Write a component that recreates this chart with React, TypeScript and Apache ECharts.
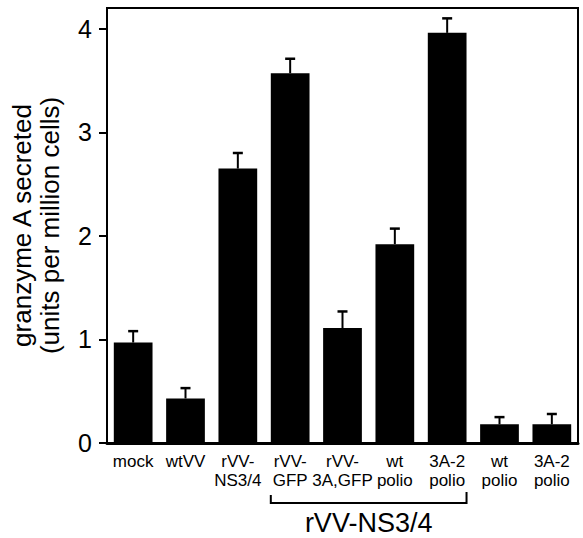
import React, { useEffect, useRef } from "react";
import * as echarts from "echarts";

const categories = [
  "mock",
  "wtVV",
  "rVV-\nNS3/4",
  "rVV-\nGFP",
  "rVV-\n3A,GFP",
  "wt\npolio",
  "3A-2\npolio",
  "wt\npolio",
  "3A-2\npolio",
];
const values = [0.97, 0.43, 2.65, 3.57, 1.11, 1.92, 3.96, 0.18, 0.18];
const errorTops = [1.08, 0.53, 2.8, 3.71, 1.27, 2.07, 4.1, 0.25, 0.28];
const yTicks = [0, 1, 2, 3, 4];
const bracketRange = [3, 6];
const bracketLabel = "rVV-NS3/4";
const yTitle = "granzyme A secreted\n(units per million cells)";

const FONT = "'Liberation Sans', Arial, Helvetica, sans-serif";

export default function App() {
  const ref = useRef<HTMLDivElement>(null);
  useEffect(() => {
    document.body.style.margin = "0";
    const chart = echarts.init(ref.current!, null, { renderer: "svg" });
    const barFrac = 0.37;
    chart.setOption({
      animation: false,
      backgroundColor: "#fff",
      grid: {
        left: 107,
        right: 5,
        top: 8,
        bottom: 95,
        show: true,
        borderColor: "#000",
        borderWidth: 2,
        outerBoundsMode: "none",
      },
      xAxis: {
        type: "category",
        data: categories,
        axisLine: { lineStyle: { color: "#000", width: 3 } },
        axisTick: { alignWithLabel: true, length: 6, lineStyle: { color: "#000", width: 1.5 } },
        axisLabel: {
          interval: 0,
          color: "#000",
          fontSize: 17,
          lineHeight: 19,
          fontFamily: FONT,
          margin: 9,
        },
      },
      yAxis: {
        type: "value",
        min: 0,
        max: 4.2,
        interval: 1,
        splitLine: { show: false },
        axisLine: { show: true, lineStyle: { color: "#000", width: 2 } },
        axisTick: {
          show: true,
          length: 8,
          lineStyle: { color: "#000", width: 2 },
          customValues: yTicks,
        },
        axisLabel: {
          color: "#000",
          fontSize: 25,
          fontFamily: FONT,
          margin: 15,
          customValues: yTicks,
        },
        name: yTitle,
        nameLocation: "middle",
        nameGap: 43,
        nameRotate: 90,
        nameTextStyle: { color: "#000", fontSize: 26, lineHeight: 28, fontFamily: FONT },
      },
      series: [
        {
          type: "bar",
          data: values,
          barWidth: "74%",
          itemStyle: { color: "#000" },
        },
        {
          type: "custom",
          data: values.map((v, i) => [i, v, errorTops[i]]),
          renderItem: (params: any, api: any) => {
            const i = api.value(0);
            const top = api.coord([i, api.value(1)]);
            const cap = api.coord([i, api.value(2)]);
            const st = { stroke: "#000", lineWidth: 2 };
            return {
              type: "group",
              children: [
                { type: "line", shape: { x1: top[0], y1: top[1], x2: cap[0], y2: cap[1] }, style: st },
                { type: "line", shape: { x1: cap[0] - 5, y1: cap[1], x2: cap[0] + 5, y2: cap[1] }, style: { stroke: "#000", lineWidth: 2.5 } },
              ],
            };
          },
          z: 3,
        },
        {
          type: "custom",
          data: [bracketRange],
          renderItem: (params: any, api: any) => {
            const a = api.coord([api.value(0), 0]);
            const b = api.coord([api.value(1), 0]);
            const band = api.size([1, 0])[0];
            const half = band * barFrac;
            const x1 = a[0] - half;
            const x2 = b[0] + half;
            const y = a[1] + 60;
            const st = { stroke: "#000", lineWidth: 2, fill: null };
            return {
              type: "group",
              children: [
                {
                  type: "polyline",
                  shape: { points: [[x1, y - 8], [x1, y], [x2, y], [x2, y - 11]] },
                  style: st,
                },
                {
                  type: "text",
                  style: {
                    text: bracketLabel,
                    x: (x1 + x2) / 2,
                    y: y + 20,
                    align: "center",
                    verticalAlign: "middle",
                    fontSize: 27,
                    fontFamily: FONT,
                    fill: "#000",
                  },
                },
              ],
            };
          },
        },
      ],
    });
    return () => chart.dispose();
  }, []);
  return <div ref={ref} style={{ width: 583, height: 538 }} />;
}
